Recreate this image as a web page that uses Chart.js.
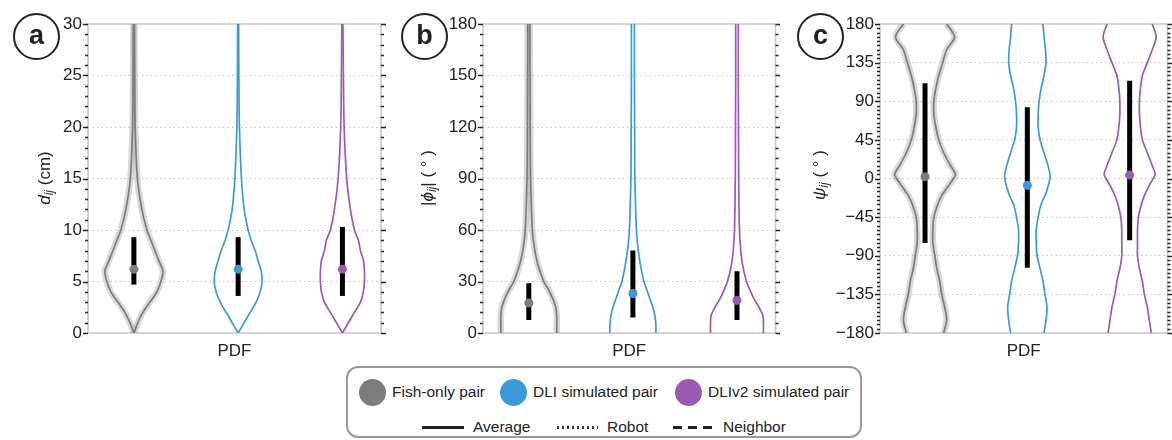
<!DOCTYPE html>
<html lang="en">
<head>
  <meta charset="UTF-8" />
  <title>Pair distance / angle PDFs</title>
  <script src="https://cdn.jsdelivr.net/npm/chart.js"></script>
  <style>
    body {
      margin: 0;
      width: 1172px;
      height: 440px;
      position: relative;
      overflow: hidden;
      background: #fff;
      font-family: "Liberation Sans", Arial, sans-serif;
      color: #222;
    }
    canvas { position: absolute; top: 0; }
    .tag {
      position: absolute;
      width: 43px;
      height: 43px;
      border: 2.5px solid #222;
      border-radius: 50%;
      font: bold 27px "Liberation Sans", Arial, sans-serif;
      text-align: center;
      line-height: 40px;
    }
    #legend {
      position: absolute;
      left: 346px;
      top: 366px;
      width: 512px;
      height: 68px;
      border: 2px solid #9a9a9a;
      border-radius: 12px;
    }
    .lg { position: absolute; font-size: 15.5px; line-height: 18px; white-space: nowrap; }
    .dot { position: absolute; width: 27px; height: 27px; border-radius: 50%; }
    .ln { position: absolute; height: 2.5px; }
  </style>
</head>
<body>
  <canvas id="chartA" width="390" height="365" style="left:0px"></canvas>
  <canvas id="chartB" width="390" height="365" style="left:390px"></canvas>
  <canvas id="chartC" width="392" height="365" style="left:780px"></canvas>

  <div class="tag" style="left:13px; top:13px">a</div>
  <div class="tag" style="left:401px; top:13px">b</div>
  <div class="tag" style="left:797px; top:13px">c</div>

  <div id="legend"></div>

  <script>
    // ---- data ----
    const seriesNames = ['Fish-only pair', 'DLI simulated pair', 'DLIv2 simulated pair'];
    const seriesColors = ['#7c7c7c', '#3a9ad9', '#9b59b6'];

    // panel a : d_ij (cm)
    const aValues = [0, 1, 2, 3, 4, 5, 6, 7, 8, 9, 10, 12, 15, 20, 25, 30];
    const aFish = [0, 0.04, 0.09, 0.16, 0.23, 0.27, 0.29, 0.25, 0.21, 0.17, 0.13, 0.08, 0.035, 0.013, 0.008, 0.005];
    const aDli = [0, 0.06, 0.12, 0.18, 0.22, 0.24, 0.23, 0.20, 0.17, 0.13, 0.10, 0.06, 0.033, 0.013, 0.007, 0.005];
    const aDli2 = [0, 0.06, 0.12, 0.18, 0.21, 0.22, 0.22, 0.21, 0.18, 0.16, 0.12, 0.08, 0.043, 0.017, 0.010, 0.005];
    const aMean = [6.2, 6.2, 6.2];
    const aLow = [4.7, 3.6, 3.6];
    const aHigh = [9.3, 9.3, 10.3];

    // panel b : |phi_ij| (deg)
    const bValues = [0, 5, 10, 15, 20, 25, 30, 40, 50, 60, 90, 120, 150, 180];
    const bFish = [0.28, 0.28, 0.28, 0.27, 0.24, 0.20, 0.15, 0.09, 0.055, 0.035, 0.018, 0.014, 0.012, 0.010];
    const bDli = [0.23, 0.23, 0.22, 0.20, 0.17, 0.14, 0.11, 0.075, 0.05, 0.035, 0.020, 0.017, 0.015, 0.015];
    const bDli2 = [0.265, 0.265, 0.26, 0.22, 0.17, 0.13, 0.095, 0.055, 0.035, 0.025, 0.017, 0.015, 0.013, 0.013];
    const bMean = [17.5, 23, 19];
    const bLow = [7.6, 9, 7.6];
    const bHigh = [29, 48, 36];

    // panel c : psi_ij (deg)
    const cValues = [-180, -165, -150, -135, -120, -105, -90, -75, -60, -45, -30, -20, -10, 0, 5, 15, 30, 45, 60, 75, 90, 105, 120, 135, 150, 165, 180];
    const cFish = [0.19, 0.22, 0.20, 0.17, 0.15, 0.12, 0.10, 0.08, 0.08, 0.09, 0.13, 0.17, 0.23, 0.29, 0.31, 0.26, 0.19, 0.14, 0.11, 0.09, 0.09, 0.11, 0.14, 0.18, 0.22, 0.30, 0.22];
    const cDli = [0.17, 0.19, 0.20, 0.18, 0.16, 0.13, 0.10, 0.09, 0.09, 0.11, 0.14, 0.18, 0.21, 0.23, 0.23, 0.21, 0.17, 0.13, 0.11, 0.11, 0.12, 0.14, 0.17, 0.19, 0.185, 0.17, 0.16];
    const cDli2 = [0.22, 0.20, 0.18, 0.15, 0.13, 0.10, 0.08, 0.08, 0.08, 0.09, 0.12, 0.15, 0.19, 0.24, 0.26, 0.23, 0.18, 0.13, 0.11, 0.10, 0.10, 0.11, 0.13, 0.18, 0.23, 0.27, 0.23];
    const cMean = [2, -8, 4];
    const cLow = [-75, -104, -72];
    const cHigh = [111, 83, 114];

    const VIOLIN_SCALE = 0.96;   // pdf -> category units
    const FONT = '"Liberation Sans", Arial, sans-serif';

    Chart.defaults.font.family = FONT;
    Chart.defaults.color = '#222';

    // frame, minor ticks and the y title with subscripts
    const decor = {
      id: 'decor',
      beforeDatasetsDraw(chart) {
        const { ctx, chartArea: ca } = chart;
        ctx.save();
        ctx.strokeStyle = '#c6c6c6';
        ctx.lineWidth = 1.5;
        ctx.strokeRect(ca.left, ca.top, ca.right - ca.left, ca.bottom - ca.top);
        ctx.restore();
      },
      afterDraw(chart, args, o) {
        const { ctx, chartArea: ca, scales: { y } } = chart;
        ctx.save();
        ctx.strokeStyle = '#222';
        ctx.lineWidth = 1.3;
        for (let v = y.min; v <= y.max + 1e-9; v += o.minor) {
          const py = Math.round(y.getPixelForValue(v)) + 0.5;
          const r = v / o.major;
          const len = Math.abs(r - Math.round(r)) < 1e-6 ? 5 : 3;
          ctx.beginPath();
          ctx.moveTo(ca.left - len, py); ctx.lineTo(ca.left, py);
          ctx.moveTo(ca.right, py); ctx.lineTo(ca.right + len, py);
          ctx.stroke();
        }

        // rotated axis title
        ctx.translate(o.titleX, o.titleY);
        ctx.rotate(-Math.PI / 2);
        ctx.fillStyle = '#222';
        ctx.textBaseline = 'middle';
        ctx.textAlign = 'left';
        const fontOf = p => (p.italic ? 'italic ' : '') + (p.sub ? 12 : 17) + 'px ' + FONT;
        let w = 0;
        o.title.forEach(p => { ctx.font = fontOf(p); w += ctx.measureText(p.t).width; });
        let x = -w / 2;
        o.title.forEach(p => {
          ctx.font = fontOf(p);
          ctx.fillText(p.t, x, p.sub ? 5 : 0);
          x += ctx.measureText(p.t).width;
        });
        ctx.restore();
      }
    };

    function violinSets(values, pdfs, lows, highs, means) {
      const sets = [];
      pdfs.forEach((pdf, s) => {
        const c = s + 1;
        const right = values.map((v, i) => ({ x: c + pdf[i] * VIOLIN_SCALE, y: v }));
        const left = values.map((v, i) => ({ x: c - pdf[i] * VIOLIN_SCALE, y: v }));
        [left, right].forEach(pts => {
          if (s === 0) {
            // shaded spread around the fish-only curve
            sets.push({ data: pts, showLine: true, borderColor: 'rgba(160,160,160,0.4)', borderWidth: 6.5, pointRadius: 0, tension: 0.3, order: 5 });
          }
          sets.push({ data: pts, showLine: true, borderColor: seriesColors[s], borderWidth: 1.7, pointRadius: 0, tension: 0.3, order: 4 });
        });
        sets.push({
          data: [{ x: c, y: lows[s] }, { x: c, y: highs[s] }],
          showLine: true, borderColor: '#000', borderWidth: 5, pointRadius: 0, order: 2
        });
        sets.push({
          data: [{ x: c, y: means[s] }],
          pointRadius: 4.5, pointBackgroundColor: seriesColors[s], pointBorderWidth: 0, order: 1
        });
      });
      return sets;
    }

    function makePanel(id, cfg) {
      new Chart(document.getElementById(id), {
        type: 'scatter',
        data: { datasets: violinSets(cfg.values, cfg.pdfs, cfg.lows, cfg.highs, cfg.means) },
        options: {
          responsive: false,
          animation: false,
          devicePixelRatio: 1,
          layout: { padding: { left: 0, right: cfg.padRight, top: 24, bottom: 0 } },
          plugins: {
            legend: { display: false },
            tooltip: { enabled: false },
            decor: { minor: cfg.minor, major: cfg.major, title: cfg.title, titleX: cfg.titleX, titleY: cfg.titleY }
          },
          events: [],
          scales: {
            x: {
              type: 'linear', min: 0.56, max: 3.37,
              ticks: { display: false },
              grid: { display: false },
              border: { display: false },
              title: { display: true, text: 'PDF', font: { size: 17 }, color: '#222', padding: { top: 0, bottom: 3 } },
              afterFit: s => { s.height = 32; }
            },
            y: {
              min: cfg.min, max: cfg.max,
              ticks: {
                stepSize: cfg.major, autoSkip: false, padding: 6,
                font: { size: 17 }, color: '#222',
                callback: v => String(v).replace('-', '\u2212')
              },
              grid: {
                drawTicks: false,
                lineWidth: 1,
                color: c => (c.tick && (c.tick.value === cfg.min || c.tick.value === cfg.max)) ? 'rgba(0,0,0,0)' : '#c4c4c4'
              },
              border: { display: false, dash: [1.5, 3] },
              afterFit: s => { s.width = cfg.axisWidth; }
            }
          }
        },
        plugins: [decor]
      });
    }

    makePanel('chartA', {
      values: aValues, pdfs: [aFish, aDli, aDli2], lows: aLow, highs: aHigh, means: aMean,
      min: 0, max: 30, major: 5, minor: 1, axisWidth: 88, padRight: 9,
      title: [{ t: 'd', italic: true }, { t: 'ij', italic: true, sub: true }, { t: ' (cm)' }],
      titleX: 45, titleY: 178
    });
    makePanel('chartB', {
      values: bValues, pdfs: [bFish, bDli, bDli2], lows: bLow, highs: bHigh, means: bMean,
      min: 0, max: 180, major: 30, minor: 6, axisWidth: 93, padRight: 3,
      title: [{ t: '|' }, { t: '\u03d5', italic: true }, { t: 'ij', italic: true, sub: true }, { t: '| ( \u00b0 )' }],
      titleX: 38, titleY: 178
    });
    makePanel('chartC', {
      values: cValues, pdfs: [cFish, cDli, cDli2], lows: cLow, highs: cHigh, means: cMean,
      min: -180, max: 180, major: 45, minor: 5, axisWidth: 100, padRight: 2,
      title: [{ t: '\u03c8', italic: true }, { t: 'ij', italic: true, sub: true }, { t: ' ( \u00b0 )' }],
      titleX: 40, titleY: 175
    });

    // ---- legend (page coordinates, relative to the box) ----
    const legend = document.getElementById('legend');
    const box = { x: 348, y: 368 };
    const dotX = [372, 513, 688];
    const textX = [392, 533, 708];
    seriesNames.forEach((name, i) => {
      legend.insertAdjacentHTML('beforeend',
        `<div class="dot" style="left:${dotX[i] - 13.5 - box.x}px; top:${392 - 13.5 - box.y}px; background:${seriesColors[i]}"></div>` +
        `<div class="lg" style="left:${textX[i] - box.x}px; top:${392 - 9 - box.y}px">${name}</div>`);
    });
    const lineKinds = [
      { name: 'Average', x0: 422, x1: 464, tx: 473, bg: '#222' },
      { name: 'Robot', x0: 557, x1: 598, tx: 607, bg: 'repeating-linear-gradient(90deg, #333 0 2px, transparent 2px 5px)' },
      { name: 'Neighbor', x0: 673, x1: 712, tx: 723, bg: 'repeating-linear-gradient(90deg, #222 0 9px, transparent 9px 15px)' }
    ];
    lineKinds.forEach(k => {
      legend.insertAdjacentHTML('beforeend',
        `<div class="ln" style="left:${k.x0 - box.x}px; width:${k.x1 - k.x0}px; top:${427 - 1 - box.y}px; background:${k.bg}"></div>` +
        `<div class="lg" style="left:${k.tx - box.x}px; top:${427 - 9 - box.y}px">${k.name}</div>`);
    });
  </script>
</body>
</html>
